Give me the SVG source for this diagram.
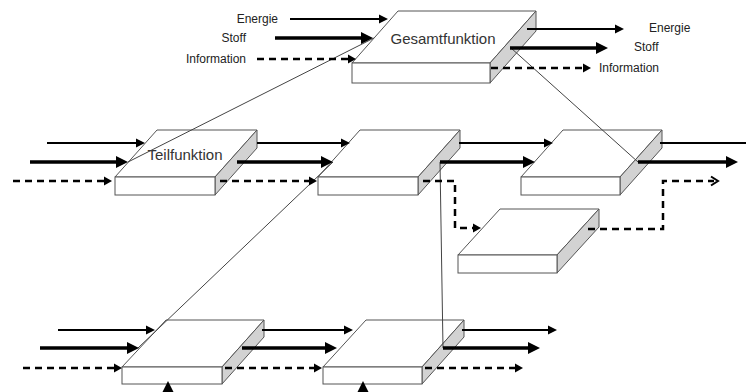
<svg xmlns="http://www.w3.org/2000/svg" width="746" height="392" viewBox="0 0 746 392">
<style>
.top{fill:#fff;stroke:#555;stroke-width:1}
.side{fill:#d2d2d2;stroke:#555;stroke-width:1}
.lbl{font-family:"Liberation Sans",Arial,sans-serif;fill:#222}
.small{font-size:12px}
.big{font-size:15px;fill:#333}
.en{stroke:#000;stroke-width:2;fill:none}
.st{stroke:#000;stroke-width:3.5;fill:none}
.in{stroke:#000;stroke-width:2.5;fill:none;stroke-dasharray:7 5}
.thin{stroke:#444;stroke-width:1;fill:none}
</style>
<defs>
<marker id="hE" markerUnits="userSpaceOnUse" viewBox="0 -6 12 12" markerWidth="12" markerHeight="12" refX="1" refY="0" orient="auto"><path d="M0,-4.5 L9,0 L0,4.5 Z" fill="#000"/></marker>
<marker id="hS" markerUnits="userSpaceOnUse" viewBox="0 -7 14 14" markerWidth="14" markerHeight="14" refX="1" refY="0" orient="auto"><path d="M0,-6 L12,0 L0,6 Z" fill="#000"/></marker>
<marker id="hI" markerUnits="userSpaceOnUse" viewBox="0 -6 12 12" markerWidth="12" markerHeight="12" refX="1" refY="0" orient="auto"><path d="M0,-4.5 L8,0 L0,4.5 Z" fill="#000"/></marker>
</defs>
<rect width="746" height="392" fill="#fff"/>

<g id="gesamtfunktion">
<polygon class="top" points="352,63 398,11 536,11 490,63"/>
<polygon class="side" points="490,63 536,11 536,31 490,83"/>
<rect class="top" x="352" y="63" width="138" height="20"/>
<text class="lbl big" x="443" y="44" text-anchor="middle">Gesamtfunktion</text>
</g>
<g id="teilfunktion">
<polygon class="top" points="115,177 157,130 257,130 215,177"/>
<polygon class="side" points="215,177 257,130 257,148 215,195"/>
<rect class="top" x="115" y="177" width="100" height="18"/>
<text class="lbl big" x="185" y="160" text-anchor="middle">Teilfunktion</text>
</g>
<g id="box2">
<polygon class="top" points="318,177 360,130 460,130 418,177"/>
<polygon class="side" points="418,177 460,130 460,148 418,195"/>
<rect class="top" x="318" y="177" width="100" height="18"/>
</g>
<g id="box3">
<polygon class="top" points="521,177 563,130 662,130 620,177"/>
<polygon class="side" points="620,177 662,130 662,148 620,195"/>
<rect class="top" x="521" y="177" width="99" height="18"/>
</g>
<g id="box4">
<polygon class="top" points="458,255 500,209 599,209 557,255"/>
<polygon class="side" points="557,255 599,209 599,227 557,273"/>
<rect class="top" x="458" y="255" width="99" height="18"/>
</g>
<g id="box5">
<polygon class="top" points="122,367 166,320 264,320 222,367"/>
<polygon class="side" points="222,367 264,320 264,337 222,384"/>
<rect class="top" x="122" y="367" width="100" height="17"/>
</g>
<g id="box6">
<polygon class="top" points="323,367 366,320 464,320 422,367"/>
<polygon class="side" points="422,367 464,320 464,337 422,384"/>
<rect class="top" x="323" y="367" width="99" height="17"/>
</g>

<g id="labels">
<text class="lbl small" x="278" y="23" text-anchor="end">Energie</text>
<text class="lbl small" x="246" y="42" text-anchor="end">Stoff</text>
<text class="lbl small" x="246" y="63" text-anchor="end">Information</text>
<text class="lbl small" x="649" y="32">Energie</text>
<text class="lbl small" x="634" y="51">Stoff</text>
<text class="lbl small" x="599" y="72">Information</text>
</g>

<g id="connectors">
<line class="thin" x1="128" y1="162" x2="374" y2="38"/>
<line class="thin" x1="511" y1="48" x2="638" y2="162"/>
<line class="thin" x1="333" y1="162" x2="138" y2="348"/>
<line class="thin" x1="440" y1="162" x2="443" y2="348"/>
<line class="en" x1="290" y1="19" x2="380" y2="19" marker-end="url(#hE)"/>
<line class="st" x1="275" y1="38" x2="362" y2="38" marker-end="url(#hS)"/>
<line class="in" x1="257" y1="59" x2="349" y2="59" marker-end="url(#hI)"/>
<line class="en" x1="527" y1="29" x2="616" y2="29" marker-end="url(#hE)"/>
<line class="st" x1="510" y1="48" x2="597" y2="48" marker-end="url(#hS)"/>
<line class="in" x1="491" y1="68" x2="584" y2="68" marker-end="url(#hI)"/>
<line class="en" x1="47" y1="143" x2="137" y2="143" marker-end="url(#hE)"/>
<line class="st" x1="30" y1="162" x2="117" y2="162" marker-end="url(#hS)"/>
<line class="in" x1="13" y1="181" x2="105" y2="181" marker-end="url(#hI)"/>
<line class="en" x1="257" y1="143" x2="342" y2="143" marker-end="url(#hE)"/>
<line class="st" x1="237" y1="162" x2="322" y2="162" marker-end="url(#hS)"/>
<line class="in" x1="220" y1="181" x2="310" y2="181" marker-end="url(#hI)"/>
<line class="en" x1="459" y1="143" x2="545" y2="143" marker-end="url(#hE)"/>
<line class="st" x1="440" y1="162" x2="524" y2="162" marker-end="url(#hS)"/>
<polyline class="in" points="423,181 455,181 455,228 474,228" marker-end="url(#hI)"/>
<line class="en" x1="660" y1="143" x2="746" y2="143"/>
<line class="st" x1="638" y1="162" x2="727" y2="162" marker-end="url(#hS)"/>
<polyline class="in" points="588,229 663,229 663,181 714,181"/>
<polyline points="711,176.5 718,181 711,185.5" fill="none" stroke="#000" stroke-width="2"/>
<line class="en" x1="58" y1="330" x2="147" y2="330" marker-end="url(#hE)"/>
<line class="st" x1="40" y1="348" x2="128" y2="348" marker-end="url(#hS)"/>
<line class="in" x1="23" y1="368" x2="115" y2="368" marker-end="url(#hI)"/>
<line class="en" x1="262" y1="330" x2="345" y2="330" marker-end="url(#hE)"/>
<line class="st" x1="242" y1="348" x2="326" y2="348" marker-end="url(#hS)"/>
<line class="in" x1="225" y1="368" x2="315" y2="368" marker-end="url(#hI)"/>
<line class="en" x1="462" y1="330" x2="549" y2="330" marker-end="url(#hE)"/>
<line class="st" x1="443" y1="348" x2="529" y2="348" marker-end="url(#hS)"/>
<line class="in" x1="425" y1="368" x2="516" y2="368" marker-end="url(#hI)"/>
<polygon points="168,381 162,393 174,393" fill="#000"/>
<polygon points="363,381 357,393 369,393" fill="#000"/>
</g>
</svg>
